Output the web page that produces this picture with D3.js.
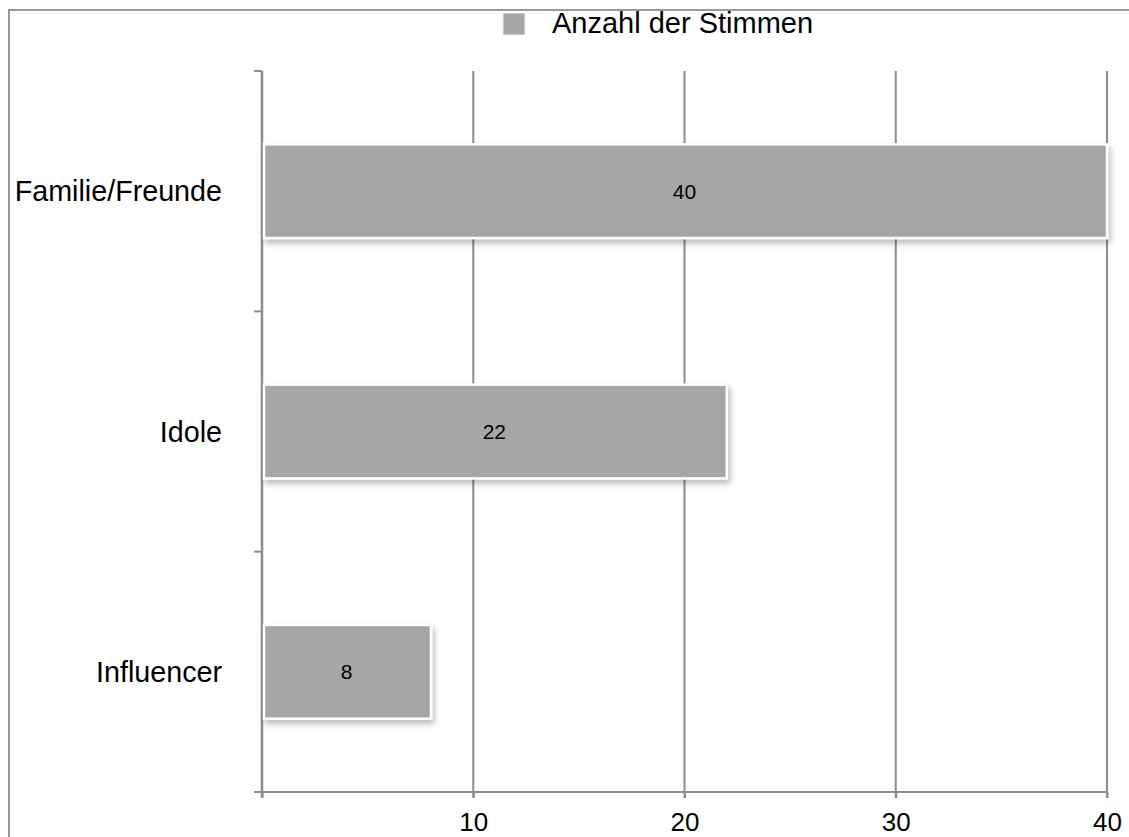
<!DOCTYPE html>
<html>
<head>
<meta charset="utf-8">
<script src="https://cdn.jsdelivr.net/npm/d3@7"></script>
<style>
  html, body { margin: 0; padding: 0; background: #fff; }
  svg { display: block; font-family: "Liberation Sans", Arial, Helvetica, sans-serif; }
</style>
</head>
<body>
<svg id="chart" width="1129" height="837"></svg>
<script>
// Survey: who influences you most?
const categories = ["Familie/Freunde", "Idole", "Influencer"];
const votes = [40, 22, 8];
const xTicks = [0, 10, 20, 30, 40];
const seriesName = "Anzahl der Stimmen";

const svg = d3.select("#chart");
const gridColor = "#8c8c8c";
const barColor = "#a6a6a6";

const plot = { left: 262, right: 1107, top: 71, bottom: 792 };

const x = d3.scaleLinear().domain([0, 40]).range([plot.left, plot.right]);
const y = d3.scaleBand().domain(categories).range([plot.top, plot.bottom]).padding(0);

// drop shadow for bars
const defs = svg.append("defs");
const f = defs.append("filter").attr("id", "shadow")
  .attr("x", "-10%").attr("y", "-20%").attr("width", "130%").attr("height", "150%");
f.append("feDropShadow").attr("dx", 2).attr("dy", 4).attr("stdDeviation", 3)
  .attr("flood-color", "#000").attr("flood-opacity", 0.28);

// outer frame
svg.append("rect")
  .attr("x", 9).attr("y", 10).attr("width", 1160).attr("height", 860)
  .attr("fill", "none").attr("stroke", "#999").attr("stroke-width", 2);

// vertical grid lines
svg.append("g").selectAll("line")
  .data(xTicks.filter(d => d > 0))
  .join("line")
  .attr("x1", d => x(d)).attr("x2", d => x(d))
  .attr("y1", plot.top).attr("y2", plot.bottom + 6)
  .attr("stroke", gridColor).attr("stroke-width", 2);

// bottom axis
const xAxis = d3.axisBottom(x).tickValues(xTicks).tickSize(6).tickFormat(d => d === 0 ? "" : d);
const gx = svg.append("g").attr("transform", `translate(0,${plot.bottom})`).call(xAxis);
gx.select(".domain").remove();
gx.append("line").attr("x1", plot.left - 8).attr("x2", plot.right)
  .attr("stroke", gridColor).attr("stroke-width", 2);
gx.selectAll(".tick line").attr("stroke", gridColor).attr("stroke-width", 2);
gx.selectAll(".tick text")
  .attr("fill", "#000").attr("font-size", 26).attr("font-family", null)
  .attr("y", 39).attr("dy", 0);

// left axis with ticks at band boundaries
const bounds = categories.map(c => y(c)).concat([plot.bottom]);
const gy = svg.append("g");
gy.append("line").attr("x1", plot.left).attr("x2", plot.left)
  .attr("y1", plot.top).attr("y2", plot.bottom + 6)
  .attr("stroke", gridColor).attr("stroke-width", 2.5);
gy.selectAll("line.tk").data(bounds).join("line").attr("class", "tk")
  .attr("x1", plot.left - 8).attr("x2", plot.left)
  .attr("y1", d => d).attr("y2", d => d)
  .attr("stroke", gridColor).attr("stroke-width", 2);

// category labels
svg.append("g").selectAll("text")
  .data(categories).join("text")
  .attr("x", 222)
  .attr("y", d => y(d) + y.bandwidth() / 2)
  .attr("dy", "0.35em")
  .attr("text-anchor", "end")
  .attr("font-size", 28.7)
  .attr("fill", "#000")
  .text(d => d);

// bars
const barH = y.bandwidth() * 0.39;
const data = categories.map((c, i) => ({ c, v: votes[i] }));
svg.append("g").selectAll("rect")
  .data(data).join("rect")
  .attr("x", x(0) + 2)
  .attr("y", d => y(d.c) + y.bandwidth() / 2 - barH / 2)
  .attr("width", d => x(d.v) - x(0) - 2)
  .attr("height", barH)
  .attr("fill", barColor)
  .attr("stroke", "#fff").attr("stroke-width", 2.5)
  .attr("filter", "url(#shadow)");

// value labels
svg.append("g").selectAll("text")
  .data(data).join("text")
  .attr("x", d => (x(0) + x(d.v)) / 2)
  .attr("y", d => y(d.c) + y.bandwidth() / 2)
  .attr("dy", "0.35em")
  .attr("text-anchor", "middle")
  .attr("font-size", 21)
  .attr("fill", "#000")
  .text(d => d.v);

// legend
const lg = svg.append("g");
lg.append("rect").attr("x", 503).attr("y", 13).attr("width", 22).attr("height", 22)
  .attr("fill", barColor).attr("stroke", "#eee").attr("stroke-width", 1);
lg.append("text").attr("x", 552).attr("y", 33)
  .attr("font-size", 29).attr("fill", "#000").text(seriesName);
</script>
</body>
</html>
